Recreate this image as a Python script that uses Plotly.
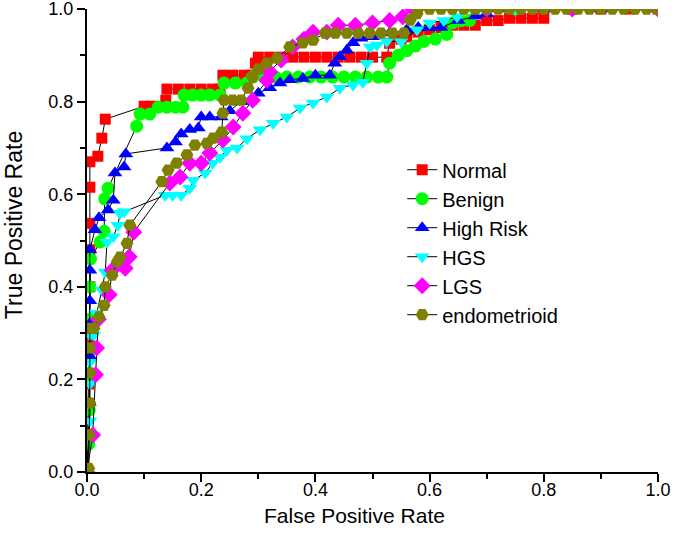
import plotly.graph_objects as go

# ROC points (false positive rate, true positive rate)
normal_fpr = [0, 0.003, 0.004, 0.005, 0.005, 0.005, 0.005, 0.005, 0.019, 0.026, 0.032,
              0.10, 0.115, 0.138, 0.14, 0.16, 0.18, 0.20, 0.22, 0.233, 0.238, 0.255, 0.275,
              0.29, 0.295, 0.30, 0.32, 0.34, 0.36, 0.38, 0.40, 0.42, 0.44, 0.46, 0.48, 0.50,
              0.525, 0.53, 0.55, 0.56, 0.58, 0.60, 0.62, 0.64, 0.66, 0.68, 0.70, 0.72, 0.74,
              0.76, 0.78, 0.80, 0.80, 0.85, 0.90, 0.95, 1.0]
normal_tpr = [0, 0.19, 0.29, 0.40, 0.48, 0.537, 0.615, 0.67, 0.682, 0.721, 0.762,
              0.79, 0.79, 0.803, 0.827, 0.827, 0.827, 0.827, 0.827, 0.827, 0.857, 0.857, 0.857,
              0.857, 0.883, 0.896, 0.896, 0.896, 0.896, 0.896, 0.896, 0.896, 0.896, 0.896, 0.896, 0.896,
              0.896, 0.926, 0.935, 0.94, 0.95, 0.955, 0.96, 0.965, 0.965, 0.965, 0.975, 0.975, 0.98,
              0.98, 0.98, 0.98, 1.0, 1.0, 1.0, 1.0, 1.0]

benign_fpr = [0, 0.003, 0.004, 0.005, 0.005, 0.005, 0.005, 0.006, 0.023, 0.03, 0.031, 0.037,
              0.087, 0.093, 0.11, 0.125, 0.14, 0.155, 0.168, 0.17, 0.185, 0.20, 0.215, 0.233,
              0.24, 0.26, 0.28, 0.29, 0.31, 0.33, 0.35, 0.37, 0.39, 0.41, 0.43, 0.45, 0.47, 0.49,
              0.51, 0.525, 0.53, 0.545, 0.56, 0.575, 0.59, 0.61, 0.63, 0.64, 0.655, 0.67, 0.68,
              0.75, 0.85, 1.0]
benign_tpr = [0, 0.06, 0.134, 0.2, 0.26, 0.33, 0.40, 0.46, 0.497, 0.52, 0.59, 0.613,
              0.747, 0.773, 0.773, 0.788, 0.788, 0.788, 0.788, 0.814, 0.814, 0.814, 0.814, 0.814,
              0.84, 0.84, 0.84, 0.853, 0.853, 0.853, 0.853, 0.853, 0.853, 0.853, 0.853, 0.853, 0.853, 0.853,
              0.853, 0.853, 0.883, 0.90, 0.91, 0.92, 0.93, 0.935, 0.945, 0.97, 0.975, 0.975, 1.0,
              1.0, 1.0, 1.0]

highrisk_fpr = [0, 0.003, 0.004, 0.005, 0.005, 0.005, 0.005, 0.005, 0.014, 0.021, 0.037, 0.046,
                0.049, 0.065, 0.068, 0.14, 0.155, 0.165, 0.18, 0.195, 0.20, 0.215, 0.235, 0.25,
                0.27, 0.285, 0.30, 0.32, 0.338, 0.355, 0.378, 0.40, 0.425, 0.434, 0.443, 0.455,
                0.466, 0.48, 0.50, 0.53, 0.56, 0.58, 0.60, 0.62, 0.65, 0.68, 0.70, 0.72, 0.80,
                0.90, 1.0]
highrisk_tpr = [0, 0.08, 0.15, 0.25, 0.32, 0.37, 0.436, 0.48, 0.523, 0.549, 0.566, 0.587,
                0.646, 0.659, 0.687, 0.70, 0.713, 0.73, 0.74, 0.743, 0.767, 0.767, 0.767, 0.78,
                0.80, 0.80, 0.818, 0.83, 0.84, 0.847, 0.85, 0.857, 0.857, 0.883, 0.897, 0.911,
                0.927, 0.937, 0.94, 0.948, 0.955, 0.96, 0.96, 0.96, 0.975, 0.985, 0.99, 1.0, 1.0,
                1.0, 1.0]

hgs_fpr = [0, 0.005, 0.005, 0.005, 0.005, 0.012, 0.017, 0.026, 0.032, 0.035, 0.046, 0.054,
           0.058, 0.065, 0.137, 0.15, 0.165, 0.18, 0.186, 0.207, 0.22, 0.233, 0.245, 0.263,
           0.28, 0.303, 0.326, 0.35, 0.373, 0.396, 0.42, 0.443, 0.466, 0.483, 0.49, 0.496,
           0.508, 0.525, 0.55, 0.578, 0.60, 0.625, 0.648, 0.66, 0.75, 0.85, 1.0]
hgs_tpr = [0, 0.11, 0.19, 0.237, 0.296, 0.296, 0.343, 0.393, 0.432, 0.497, 0.508, 0.533,
           0.559, 0.562, 0.598, 0.598, 0.598, 0.613, 0.63, 0.646, 0.667, 0.68, 0.695, 0.70,
           0.72, 0.739, 0.753, 0.767, 0.786, 0.797, 0.81, 0.829, 0.836, 0.842, 0.883, 0.918,
           0.922, 0.93, 0.93, 0.955, 0.97, 0.975, 0.983, 1.0, 1.0, 1.0, 1.0]

lgs_fpr = [0, 0.01, 0.015, 0.017, 0.02, 0.039, 0.044, 0.067, 0.074, 0.082, 0.145, 0.163,
           0.18, 0.20, 0.215, 0.238, 0.256, 0.273, 0.29, 0.315, 0.32, 0.34, 0.36, 0.38, 0.396,
           0.42, 0.44, 0.47, 0.50, 0.53, 0.553, 0.57, 0.70, 0.85, 1.0]
lgs_tpr = [0, 0.08, 0.21, 0.268, 0.33, 0.383, 0.436, 0.44, 0.465, 0.518, 0.624, 0.637,
           0.667, 0.667, 0.689, 0.717, 0.745, 0.775, 0.803, 0.846, 0.864, 0.89, 0.918, 0.935, 0.95,
           0.95, 0.965, 0.965, 0.97, 0.975, 0.983, 1.0, 1.0, 1.0, 1.0]

endo_fpr = [0, 0.003, 0.004, 0.005, 0.005, 0.005, 0.005, 0.012, 0.021, 0.03, 0.032, 0.044,
            0.053, 0.058, 0.07, 0.075, 0.131, 0.142, 0.157, 0.175, 0.189, 0.21, 0.221, 0.236,
            0.238, 0.24, 0.255, 0.27, 0.282, 0.29, 0.30, 0.315, 0.333, 0.355, 0.378, 0.396,
            0.417, 0.435, 0.455, 0.475, 0.495, 0.515, 0.535, 0.555, 0.566, 0.578, 0.58, 0.60,
            0.62, 0.64, 0.66, 0.68, 0.70, 0.72, 0.74, 0.76, 0.78, 0.80, 0.82, 0.84, 0.86, 0.88,
            0.90, 0.92, 0.94, 0.96, 0.98, 1.0]
endo_tpr = [0, 0.008, 0.08, 0.149, 0.214, 0.268, 0.31, 0.31, 0.335, 0.36, 0.40, 0.425,
            0.454, 0.464, 0.494, 0.533, 0.627, 0.652, 0.667, 0.685, 0.706, 0.71, 0.721, 0.734,
            0.775, 0.803, 0.803, 0.803, 0.829, 0.853, 0.87, 0.883, 0.894, 0.918, 0.927, 0.933,
            0.948, 0.948, 0.948, 0.948, 0.948, 0.948, 0.948, 0.948, 0.976, 0.99, 1.0, 1.0,
            1.0, 1.0, 1.0, 1.0, 1.0, 1.0, 1.0, 1.0, 1.0, 1.0, 1.0, 1.0, 1.0, 1.0,
            1.0, 1.0, 1.0, 1.0, 1.0, 1.0]

tick_vals = [0, 0.2, 0.4, 0.6, 0.8, 1.0]
tick_text = ["0.0", "0.2", "0.4", "0.6", "0.8", "1.0"]

series = [
    ("Normal", normal_fpr, normal_tpr, "square", "#ff0000", 11),
    ("Benign", benign_fpr, benign_tpr, "circle", "#00ff00", 13),
    ("High Risk", highrisk_fpr, highrisk_tpr, "triangle-up", "#0000ff", 13),
    ("HGS", hgs_fpr, hgs_tpr, "triangle-down", "#00ffff", 13),
    ("LGS", lgs_fpr, lgs_tpr, "diamond", "#ff00ff", 13),
    ("endometrioid", endo_fpr, endo_tpr, "hexagon2", "#808000", 13),
]

fig = go.Figure()
for name, xs, ys, sym, col, size in series:
    fig.add_trace(go.Scatter(
        x=xs, y=ys, mode="lines+markers", name=name,
        line=dict(color="black", width=1),
        marker=dict(symbol=sym, color=col, size=size, line=dict(width=0)),
    ))

axis_style = dict(
    range=[0, 1], tickvals=tick_vals, ticktext=tick_text, ticklabeloverflow="allow",
    showgrid=False, zeroline=False, automargin=False,
    showline=True, linecolor="black", linewidth=2,
    ticks="outside", ticklen=8, tickwidth=2, tickcolor="black",
    minor=dict(ticks="outside", ticklen=5, tickwidth=2, tickcolor="black", dtick=0.1, tick0=0),
    tickfont=dict(size=18, color="black"),
)

fig.update_xaxes(**axis_style, ticklabelstandoff=-8)
fig.update_yaxes(**axis_style)

# axis titles sit off-centre in the original, so place them as annotations
fig.add_annotation(text="False Positive Rate", xref="paper", yref="paper",
                   x=0.468, y=-0.094, xanchor="center", yanchor="middle",
                   showarrow=False, font=dict(size=21, color="black"))
fig.add_annotation(text="True Positive Rate", xref="paper", yref="paper",
                   x=-0.128, y=0.533, xanchor="center", yanchor="middle", textangle=-90,
                   showarrow=False, font=dict(size=23, color="black"))

fig.update_layout(
    width=675, height=542,
    margin=dict(l=87, r=17, t=9, b=70),
    plot_bgcolor="white", paper_bgcolor="white",
    font=dict(family="Arial, Liberation Sans, sans-serif", color="black"),
    legend=dict(x=0.552, y=0.695, xanchor="left", yanchor="top",
                bgcolor="rgba(0,0,0,0)", font=dict(size=20)),
)

# page body has a default 8px margin; drop it so the figure sits at the window corner
fig.write_html("out.html", config={"displayModeBar": False},
               post_script="document.body.style.margin='0';")
